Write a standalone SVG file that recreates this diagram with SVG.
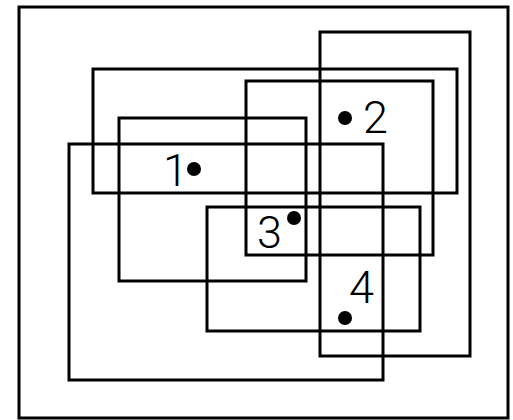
<svg xmlns="http://www.w3.org/2000/svg" width="513" height="420" viewBox="0 0 513 420">
<style>
.r{fill:none;stroke:#000;stroke-width:3}
.d{fill:#000}
.t{font-family:Roboto,"Liberation Sans",Arial,sans-serif;font-weight:300;font-size:45px;fill:#000}
</style>
<rect x="0" y="0" width="513" height="420" fill="#fff"/>
<g id="frame"><rect class="r" x="19" y="7" width="489" height="411"/></g>
<g id="rects">
<rect class="r" x="69" y="144" width="314" height="236"/>
<rect class="r" x="93" y="69" width="364" height="124"/>
<rect class="r" x="119" y="118" width="187" height="163"/>
<rect class="r" x="246" y="81" width="187" height="174"/>
<rect class="r" x="320" y="32" width="150" height="324"/>
<rect class="r" x="207" y="207" width="213" height="124"/>
</g>
<g id="p1"><circle class="d" cx="194" cy="169" r="7"/><text class="t" x="163" y="186">1</text></g>
<g id="p2"><circle class="d" cx="345" cy="118" r="7"/><text class="t" x="363" y="133">2</text></g>
<g id="p3"><circle class="d" cx="294" cy="218" r="7"/><text class="t" x="257" y="248">3</text></g>
<g id="p4"><circle class="d" cx="345" cy="318" r="7"/><text class="t" x="349" y="303">4</text></g>
</svg>
